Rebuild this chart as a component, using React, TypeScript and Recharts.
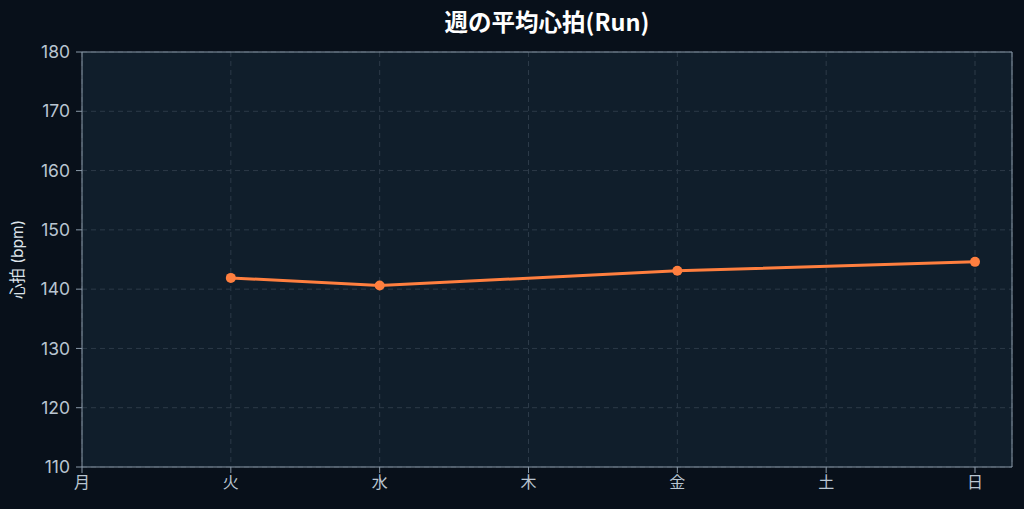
import { LineChart, Line, XAxis, YAxis, CartesianGrid } from "recharts";

const days = ["月", "火", "水", "木", "金", "土", "日"];
const heartRate = [null, 141.9, 140.6, null, 143.1, null, 144.6];
const yTicks = [110, 120, 130, 140, 150, 160, 170, 180];

const data = days.map((day, i) => ({ day, hr: heartRate[i] }));

const FONT = "Inter, 'Noto Sans CJK JP', 'Noto Sans', sans-serif";
const BORDER = "#8a99a8";
const TICK = "#b9c5d1";

export default function App() {
  return (
    <div
      style={{
        position: "fixed",
        inset: 0,
        width: 1024,
        height: 509,
        background: "#08101a",
        fontFamily: FONT,
      }}
    >
      <div
        style={{
          position: "absolute",
          top: 4,
          left: 82,
          width: 930,
          textAlign: "center",
          color: "#ffffff",
          fontWeight: 700,
          fontSize: 23.5,
          fontFamily: "'Noto Sans CJK JP', Inter, sans-serif",
        }}
      >
        週の平均心拍(Run)
      </div>
      <LineChart
        width={1024}
        height={509}
        data={data}
        margin={{ top: 51, right: 11, bottom: 12, left: 0 }}
      >
        <CartesianGrid
          fill="#101e2b"
          stroke="#2c3a48"
          strokeDasharray="5 4"
        />
        <XAxis
          dataKey="day"
          padding={{ left: 0, right: 37 }}
          height={30}
          stroke={BORDER}
          tickSize={6}
          tick={{ fill: TICK, fontSize: 16, fontFamily: FONT }}
          tickMargin={4}
        />
        <XAxis
          xAxisId="top"
          dataKey="day"
          orientation="top"
          height={1}
          stroke={BORDER}
          tick={false}
          tickLine={false}
        />
        <YAxis
          domain={[110, 180]}
          ticks={yTicks}
          width={82}
          stroke={BORDER}
          tickSize={6}
          tickMargin={6}
          tick={{ fill: TICK, fontSize: 17.5, fontFamily: FONT }}
          label={{
            value: "心拍 (bpm)",
            angle: -90,
            position: "insideLeft",
            offset: 17,
            style: { textAnchor: "middle", fill: "#dde4ea", fontSize: 15.5, fontFamily: FONT },
          }}
        />
        <YAxis
          yAxisId="right"
          orientation="right"
          domain={[110, 180]}
          width={1}
          stroke={BORDER}
          tick={false}
          tickLine={false}
        />
        <Line
          xAxisId="top"
          yAxisId="right"
          dataKey="hr"
          stroke="none"
          dot={false}
          activeDot={false}
          legendType="none"
          isAnimationActive={false}
        />
        <Line
          type="linear"
          dataKey="hr"
          stroke="#ff7f3f"
          strokeWidth={3}
          connectNulls
          dot={{ r: 5, fill: "#ff7f3f", stroke: "#ff7f3f", strokeWidth: 0 }}
          activeDot={false}
          isAnimationActive={false}
        />
      </LineChart>
    </div>
  );
}
